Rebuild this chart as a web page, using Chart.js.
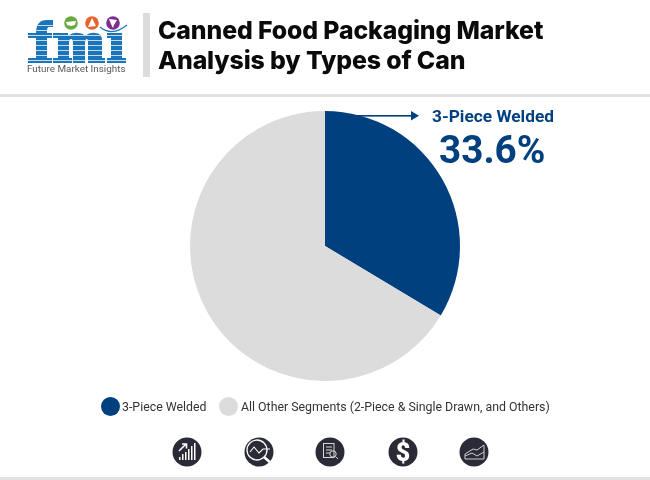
<!DOCTYPE html>
<html>
<head>
<meta charset="utf-8">
<script src="https://cdn.jsdelivr.net/npm/chart.js@4/dist/chart.umd.min.js"></script>
<style>
html, body { margin: 0; padding: 0; background: #fff; }
#page { position: relative; width: 650px; height: 480px; overflow: hidden; font-family: Roboto, sans-serif; }
#chart { position: absolute; left: 0; top: 0; }
#art { position: absolute; left: 0; top: 0; }
.abs { position: absolute; white-space: nowrap; }
#title { left: 158px; top: 15px; font: 800 24.8px/30px Inter, sans-serif; color: #0a0a0a; letter-spacing: -0.1px; }
#callName { left: 432px; top: 106px; font: 700 17.3px/20px Roboto, sans-serif; color: #00407f; }
#callValue { left: 439px; top: 127px; font: 700 38.7px/46px Roboto, sans-serif; color: #00407f; }
.legText { top: 399px; font: 400 12.35px/17px Roboto, sans-serif; color: #333; }
</style>
</head>
<body>
<div id="page">
  <canvas id="chart" width="650" height="480"></canvas>
  <svg id="art" width="650" height="480" xmlns="http://www.w3.org/2000/svg">
    <!-- rules -->
    <rect x="143" y="13" width="7" height="64" fill="#dcdcdc"/>
    <rect x="0" y="94" width="650" height="3" fill="#e2e2e2"/>
    <rect x="0" y="477" width="650" height="3" fill="#e2e2e2"/>

    <!-- logo -->
    <defs>
      <clipPath id="fmiClip">
        <path d="M36 33 Q36 20 47 20 L53 20 L53 27 L49 27 Q47 27 47 31 L47 33 L52 33 L52 38 L47 38 L47 58 L52 58 L52 63 L28 63 L28 58 L36 58 L36 38 L28 38 L28 33 Z"/>
        <path d="M53 33 L68 33 L68 36 Q73 32 78 33 Q83 33 85 36 Q90 32 95 33 Q102 33 102 41 L102 58 L105 58 L105 63 L88 63 L88 43 Q88 39 87 39 Q85 39 85 43 L85 63 L73 63 L73 43 Q73 39 71 39 Q69 39 69 43 L69 58 L72 58 L72 63 L53 63 L53 58 L58 58 L58 38 L53 38 Z"/>
        <path d="M107 33 L122 33 L122 58 L126 58 L126 63 L107 63 L107 58 L111 58 L111 38 L107 38 Z"/>
      </clipPath>
    </defs>
    <g clip-path="url(#fmiClip)">
      <rect x="25" y="18" width="105" height="48" fill="#1b75ba"/>
      <g fill="#fff" fill-opacity="0.75">
        <rect x="25" y="25" width="105" height="1"/><rect x="25" y="30" width="105" height="1"/>
        <rect x="25" y="35" width="105" height="1"/><rect x="25" y="40" width="105" height="1"/>
        <rect x="25" y="45" width="105" height="1"/><rect x="25" y="50" width="105" height="1"/>
        <rect x="25" y="55" width="105" height="1"/><rect x="25" y="60" width="105" height="1"/>
      </g>
    </g>
    <path d="M100 27 Q112 37 127 25" fill="none" stroke="#1b75ba" stroke-width="1.2"/>
    <circle cx="71" cy="23" r="6.8" fill="#6aa842"/>
    <path d="M66 22 L76 21 L75 25 L71 26 L67 25 Z" fill="#fff"/>
    <circle cx="92" cy="23" r="6.8" fill="#e8622c"/>
    <path d="M92 18 L96 26 L88 27 Z" fill="#fff"/>
    <circle cx="113" cy="23" r="6.8" fill="#7b2f8e"/>
    <path d="M109 19 L117 20 L114 25 L113 28 L111 24 Z" fill="#fff"/>
    <text x="27" y="72" font-family="Roboto, sans-serif" font-size="9.9" fill="#58595b">Future Market Insights</text>

    <!-- callout arrow -->
    <rect x="345" y="115" width="68" height="1.6" fill="#00407f"/>
    <path d="M411 111 L419 115.8 L411 120.5 Z" fill="#00407f"/>

    <!-- bottom icons -->
    <g fill="#2b2b38">
      <circle cx="187" cy="452" r="14.5"/><circle cx="259" cy="452" r="14.5"/>
      <circle cx="330" cy="452" r="14.5"/><circle cx="403" cy="452" r="14.5"/>
      <circle cx="474" cy="452" r="14.5"/>
    </g>
    <g fill="#fff">
      <rect x="179" y="457" width="1.5" height="3"/><rect x="182" y="454" width="1.5" height="6"/>
      <rect x="185" y="452" width="1.5" height="8"/><rect x="188" y="449" width="1.5" height="11"/>
      <rect x="191" y="446" width="1.5" height="14"/><rect x="194" y="443" width="1.5" height="17"/>
    </g>
    <path d="M179 451 L186 444 M182 444 L186.5 444 L186.5 448.5" fill="none" stroke="#fff" stroke-width="1.6"/>
    <g fill="none" stroke="#fff">
      <circle cx="257" cy="450" r="10" stroke-width="1.3"/>
      <path d="M250 452 L254 447 L259 453 L263 449 L270 449" stroke-width="1.1"/>
      <path d="M264 457 L272 464" stroke-width="2.6"/>
    </g>
    <g fill="none" stroke="#d8d8d8" stroke-width="1">
      <rect x="323.5" y="443.5" width="10.5" height="14"/>
      <path d="M326 447 H332 M326 450 H332 M326 453 H330"/>
      <circle cx="333" cy="454" r="3.2"/><path d="M335.5 456.5 L338 459"/>
    </g>
    <text x="403" y="461" text-anchor="middle" font-family="Roboto, sans-serif" font-weight="900" font-size="25" fill="#fff">$</text>
    <g fill="none" stroke="#cfcfcf" stroke-width="1">
      <path d="M465 459 H484 V445 L477 450 L473 449 L465 454 Z"/>
      <path d="M465 456 L472 453 L477 456 L484 452"/>
    </g>
  </svg>

  <div id="title" class="abs">Canned Food Packaging Market<br>Analysis by Types of Can</div>
  <div id="callName" class="abs"></div>
  <div id="callValue" class="abs"></div>
  <div id="legend"></div>
</div>

<script>
var categories = ['3-Piece Welded', 'All Other Segments (2-Piece & Single Drawn, and Others)'];
var shares = [33.6, 66.4];
var sliceColors = ['#00407f', '#dcdcdc'];

document.getElementById('callName').textContent = categories[0];
document.getElementById('callValue').textContent = shares[0] + '%';

// legend is plain html so it can sit where the reference has it
var legendDots = [110, 228];
var legendLabels = [122, 241];
var legendBox = document.getElementById('legend');
categories.forEach(function (name, i) {
    var dot = document.createElement('div');
    dot.className = 'abs';
    dot.style.cssText = 'left:' + (legendDots[i] - 9.5) + 'px;top:397px;width:19px;height:19px;border-radius:50%;background:' + sliceColors[i];
    legendBox.appendChild(dot);
    var label = document.createElement('div');
    label.className = 'abs legText';
    label.style.left = legendLabels[i] + 'px';
    label.textContent = name;
    legendBox.appendChild(label);
});

new Chart('chart', {
    type: 'pie',
    data: {
        labels: categories,
        datasets: [{
            data: shares,
            backgroundColor: sliceColors,
            borderWidth: 0
        }]
    },
    options: {
        responsive: false,
        animation: false,
        layout: {
            padding: { top: 111, bottom: 99, left: 0, right: 0 }
        },
        plugins: {
            legend: { display: false },
            tooltip: { enabled: false }
        }
    }
});
</script>
</body>
</html>
